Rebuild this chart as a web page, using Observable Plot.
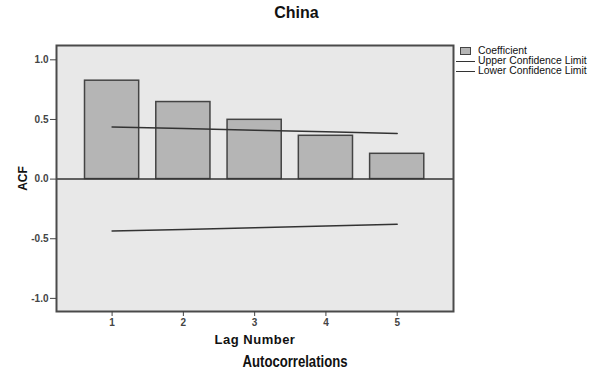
<!DOCTYPE html>
<html>
<head>
<meta charset="utf-8">
<script src="https://cdn.jsdelivr.net/npm/d3@7"></script>
<script src="https://cdn.jsdelivr.net/npm/@observablehq/plot@0.6"></script>
<style>
  body { margin: 0; background: #fff; font-family: "Liberation Sans", Arial, sans-serif; }
  #chart { position: relative; width: 591px; height: 375px; overflow: hidden; }
  #chart svg { position: absolute; left: 0; top: 0; }
  .title { position: absolute; left: 0; width: 591px; text-align: center; font-weight: bold; color: #111; }
  #t-main { top: 4px; font-size: 16px; left: 1px; }
  #t-foot { top: 353px; font-size: 16px; left: 0px; }
  #t-foot span { display: inline-block; transform: scaleX(0.82); transform-origin: center; }
  .legend { position: absolute; left: 456px; font-size: 10.4px; color: #111; }
  .legend .row { position: absolute; left: 0; white-space: nowrap; height: 10px; line-height: 10px; }
  .legend .sw { position: absolute; left: 4px; top: 1px; width: 9px; height: 6px; background: #b5b5b5; border: 1.5px solid #444; }
  .legend .ln { position: absolute; left: 0; top: 4.5px; width: 19px; border-top: 1.5px solid #333; }
  .legend .lbl { position: absolute; left: 22px; top: 0; }
  g[aria-label="y-axis label"] text { font-size: 12px; font-weight: bold; fill: #111; }
  g[aria-label="x-axis label"] text { font-size: 13px; font-weight: bold; fill: #111; letter-spacing: 0.5px; }
</style>
</head>
<body>
<div id="chart">
  <div class="title" id="t-main">China</div>
  <div class="title" id="t-foot"><span>Autocorrelations</span></div>
  <div class="legend" style="top:46px">
    <div class="row" style="top:0px"><span class="sw"></span><span class="lbl">Coefficient</span></div>
    <div class="row" style="top:10px"><span class="ln"></span><span class="lbl">Upper Confidence Limit</span></div>
    <div class="row" style="top:20px"><span class="ln"></span><span class="lbl">Lower Confidence Limit</span></div>
  </div>
</div>
<script>
// Autocorrelation coefficients by lag, with the confidence limits
const lags = [1, 2, 3, 4, 5];
const coefficient = [0.825, 0.646, 0.497, 0.363, 0.212];
const upperLimit = [0.436, 0.424, 0.410, 0.396, 0.383];
const lowerLimit = [-0.436, -0.423, -0.408, -0.393, -0.378];
const yTicks = [-1.0, -0.5, 0.0, 0.5, 1.0];
const xTicks = [1, 2, 3, 4, 5];

const acf = lags.map((lag, i) => ({lag, value: coefficient[i]}));
const upper = lags.map((lag, i) => ({lag, value: upperLimit[i]}));
const lower = lags.map((lag, i) => ({lag, value: lowerLimit[i]}));

const halfBar = 0.38;

const chart = Plot.plot({
  width: 591,
  height: 375,
  marginLeft: 56,
  marginRight: 138,
  marginTop: 45,
  marginBottom: 64,
  style: {fontFamily: "'Liberation Sans', Arial, sans-serif", background: "transparent"},
  x: {type: "linear", domain: [0.22, 5.79]},
  y: {domain: [-1.11, 1.12]},
  marks: [
    Plot.frame({fill: "#e8e8e8", stroke: "none"}),
    Plot.rectY(acf, {
      x1: d => d.lag - halfBar,
      x2: d => d.lag + halfBar,
      y1: 0,
      y2: "value",
      fill: "#b5b5b5",
      stroke: "#444",
      strokeWidth: 1.5
    }),
    Plot.ruleY([0], {stroke: "#333", strokeWidth: 1.5}),
    Plot.line(upper, {x: "lag", y: "value", stroke: "#333", strokeWidth: 1.5}),
    Plot.line(lower, {x: "lag", y: "value", stroke: "#333", strokeWidth: 1.5}),
    Plot.frame({stroke: "#4a4a4a", strokeWidth: 2}),
    Plot.axisY({
      ticks: yTicks,
      tickFormat: d => d.toFixed(1),
      tickSize: 6,
      tickPadding: 2,
      fontSize: 10,
      fontWeight: "bold",
      color: "#444",
      label: "ACF",
      labelAnchor: "center",
      labelOffset: 38,
      labelArrow: "none"
    }),
    Plot.axisX({
      ticks: xTicks,
      tickFormat: d => String(d),
      tickSize: 5,
      tickPadding: 2,
      fontSize: 10,
      fontWeight: "bold",
      color: "#444",
      label: "Lag Number",
      labelAnchor: "center",
      labelOffset: 32,
      labelArrow: "none"
    })
  ]
});

document.getElementById("chart").prepend(chart);
</script>
</body>
</html>
